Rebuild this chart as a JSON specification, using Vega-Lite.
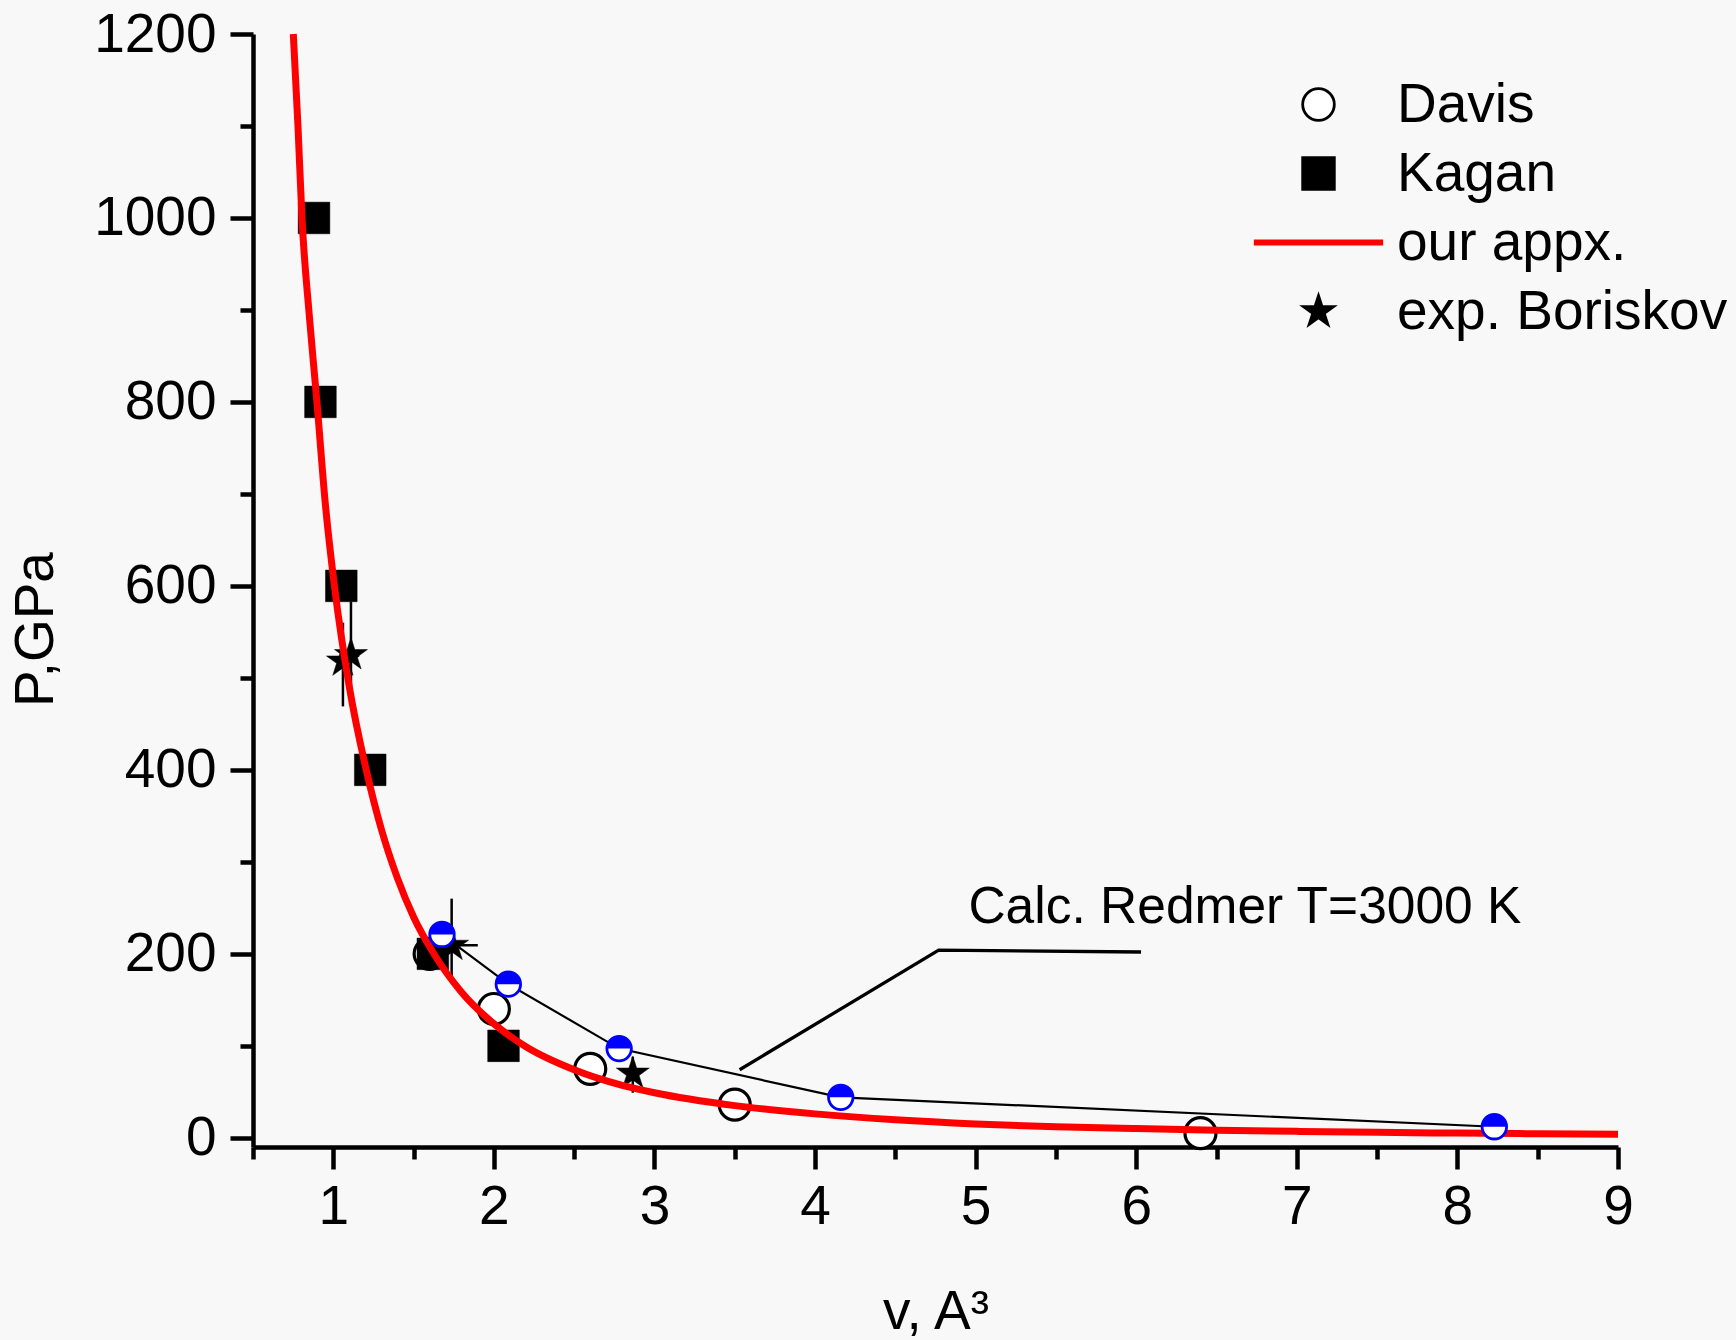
{
  "$schema": "https://vega.github.io/schema/vega-lite/v6.json",
  "width": 1365,
  "height": 1113,
  "autosize": {"type": "none"},
  "padding": {"left": 253, "top": 34, "right": 118, "bottom": 193},
  "background": "#f8f8f8",
  "config": {
    "view": {"stroke": null},
    "font": "Liberation Sans",
    "axis": {"grid": false, "labelFont": "Liberation Sans", "titleFont": "Liberation Sans", "domainColor": "black", "tickColor": "black", "labelColor": "black", "titleColor": "black", "titleFontWeight": "normal", "tickWidth": 4.5, "domainWidth": 4.5, "labelFlush": false, "labelOverlap": false}
  },
  "datasets": {
    "pts": [
      {"v": 1.60, "p": 200, "series": "Davis"},
      {"v": 2.00, "p": 140, "series": "Davis"},
      {"v": 2.60, "p": 75, "series": "Davis"},
      {"v": 3.50, "p": 36, "series": "Davis"},
      {"v": 6.40, "p": 5, "series": "Davis"},
      {"v": 0.88, "p": 1000, "series": "Kagan"},
      {"v": 0.92, "p": 800, "series": "Kagan"},
      {"v": 1.05, "p": 600, "series": "Kagan"},
      {"v": 1.23, "p": 400, "series": "Kagan"},
      {"v": 1.62, "p": 200, "series": "Kagan"},
      {"v": 2.06, "p": 100, "series": "Kagan"},
      {"v": 1.06, "p": 518, "series": "exp. Boriskov"},
      {"v": 1.11, "p": 525, "series": "exp. Boriskov"},
      {"v": 1.74, "p": 209, "series": "exp. Boriskov"},
      {"v": 2.865, "p": 70, "series": "exp. Boriskov"}
    ],
    "verr": [
      {"v": 1.06, "lo": 469, "hi": 560},
      {"v": 1.11, "lo": 469, "hi": 583},
      {"v": 1.737, "lo": 170, "hi": 260},
      {"v": 2.865, "lo": 49, "hi": 88}
    ],
    "herr": [
      {"lo": 1.57, "hi": 1.90, "p": 209.4}
    ],
    "appx": [
      {"v": 0.751, "p": 1200, "series": "our appx."},
      {"v": 0.78, "p": 1100, "series": "our appx."},
      {"v": 0.805, "p": 1000, "series": "our appx."},
      {"v": 0.85, "p": 895, "series": "our appx."},
      {"v": 0.898, "p": 800, "series": "our appx."},
      {"v": 0.95, "p": 690, "series": "our appx."},
      {"v": 1.007, "p": 600, "series": "our appx."},
      {"v": 1.1, "p": 490, "series": "our appx."},
      {"v": 1.205, "p": 400, "series": "our appx."},
      {"v": 1.3, "p": 335, "series": "our appx."},
      {"v": 1.4, "p": 282, "series": "our appx."},
      {"v": 1.5, "p": 240, "series": "our appx."},
      {"v": 1.63, "p": 199, "series": "our appx."},
      {"v": 1.8, "p": 158, "series": "our appx."},
      {"v": 2.0, "p": 124, "series": "our appx."},
      {"v": 2.2, "p": 99, "series": "our appx."},
      {"v": 2.5, "p": 74, "series": "our appx."},
      {"v": 2.8, "p": 57, "series": "our appx."},
      {"v": 3.0, "p": 49, "series": "our appx."},
      {"v": 3.5, "p": 35, "series": "our appx."},
      {"v": 4.0, "p": 26, "series": "our appx."},
      {"v": 4.5, "p": 19.5, "series": "our appx."},
      {"v": 5.0, "p": 15, "series": "our appx."},
      {"v": 5.5, "p": 12, "series": "our appx."},
      {"v": 6.0, "p": 10, "series": "our appx."},
      {"v": 6.5, "p": 8.3, "series": "our appx."},
      {"v": 7.0, "p": 7, "series": "our appx."},
      {"v": 7.5, "p": 6, "series": "our appx."},
      {"v": 8.0, "p": 5.1, "series": "our appx."},
      {"v": 8.5, "p": 4.4, "series": "our appx."},
      {"v": 9.0, "p": 3.9, "series": "our appx."}
    ],
    "redmer": [
      {"v": 1.677, "p": 221},
      {"v": 2.09, "p": 167},
      {"v": 2.78, "p": 97},
      {"v": 4.16, "p": 44},
      {"v": 8.23, "p": 12}
    ],
    "callout": [
      {"v": 3.53, "p": 74},
      {"v": 4.77, "p": 204},
      {"v": 6.03, "p": 202}
    ],
    "note": [
      {"v": 4.955, "p": 233.7, "text": "Calc. Redmer T=3000 K"}
    ]
  },
  "layer": [
    {
      "data": {"name": "pts"},
      "transform": [{"filter": "datum.series === 'Davis'"}],
      "mark": {"type": "point", "filled": true, "size": 961, "strokeWidth": 3.2, "opacity": 1},
      "encoding": {
        "x": {"field": "v", "type": "quantitative", "scale": {"domain": [0.5, 9], "nice": false, "zero": false},
          "axis": {"orient": "bottom", "values": [1, 2, 3, 4, 5, 6, 7, 8, 9], "tickSize": 22, "tickWidth": 4.5, "domainWidth": 4.5, "labelFontSize": 55, "labelPadding": 11, "title": "v, A³", "titleFontSize": 55, "titleY": 181, "titleBaseline": "alphabetic"}},
        "y": {"field": "p", "type": "quantitative", "scale": {"domain": [-10, 1200], "nice": false, "zero": false},
          "axis": {"orient": "left", "values": [0, 200, 400, 600, 800, 1000, 1200], "format": "d", "tickSize": 23, "tickWidth": 4.5, "domainWidth": 4.5, "labelFontSize": 55, "labelPadding": 14, "title": "P,GPa", "titleFontSize": 55, "titleAngle": -90, "titleX": -201, "titleY": 595, "titleBaseline": "alphabetic", "titleAlign": "center"}},
        "shape": {"field": "series", "type": "nominal",
          "scale": {"domain": ["Davis", "Kagan", "our appx.", "exp. Boriskov"], "range": ["circle", "square", "M-4,-0.1L4,-0.1L4,0.1L-4,0.1Z", "M0,-1L0.2245,-0.309L0.951,-0.309L0.3633,0.118L0.588,0.809L0,0.382L-0.588,0.809L-0.3633,0.118L-0.951,-0.309L-0.2245,-0.309Z"]},
          "legend": {"orient": "none", "legendX": 1038, "legendY": 43, "title": null, "padding": 0, "labelFontSize": 55, "labelFont": "Liberation Sans", "labelColor": "black", "labelLimit": 0, "labelOffset": 51, "rowPadding": 13, "symbolSize": 1000, "symbolStrokeWidth": 2.8,
            "encode": {
              "symbols": {"fill": {"scale": "fill", "field": "value"}, "stroke": {"scale": "stroke", "field": "value"}, "shape": {"scale": "shape", "field": "value"}, "size": {"value": 1000}, "strokeWidth": {"value": 2.8}, "opacity": {"value": 1}},
              "labels": {"dx": {"signal": "datum.value === 'exp. Boriskov' ? -17 : 0"}}
            }}},
        "fill": {"field": "series", "type": "nominal", "scale": {"domain": ["Davis", "Kagan", "our appx.", "exp. Boriskov"], "range": ["white", "black", "red", "black"]}},
        "stroke": {"field": "series", "type": "nominal", "scale": {"domain": ["Davis", "Kagan", "our appx.", "exp. Boriskov"], "range": ["black", "black", "red", "black"]}}
      }
    },
    {
      "data": {"name": "pts"},
      "transform": [{"filter": "datum.series === 'Kagan'"}],
      "mark": {"type": "point", "filled": true, "size": 1000, "strokeWidth": 0.5, "opacity": 1},
      "encoding": {
        "x": {"field": "v", "type": "quantitative", "axis": null},
        "y": {"field": "p", "type": "quantitative", "axis": null},
        "shape": {"field": "series", "type": "nominal"},
        "fill": {"field": "series", "type": "nominal"},
        "stroke": {"field": "series", "type": "nominal"}
      }
    },
    {
      "data": {"name": "pts"},
      "transform": [{"filter": "datum.series === 'exp. Boriskov'"}],
      "mark": {"type": "point", "filled": true, "size": 1200, "strokeWidth": 0.5, "opacity": 1},
      "encoding": {
        "x": {"field": "v", "type": "quantitative", "axis": null},
        "y": {"field": "p", "type": "quantitative", "axis": null},
        "shape": {"field": "series", "type": "nominal"},
        "fill": {"field": "series", "type": "nominal"},
        "stroke": {"field": "series", "type": "nominal"}
      }
    },
    {
      "data": {"name": "verr"},
      "mark": {"type": "rule", "color": "black", "strokeWidth": 2.5},
      "encoding": {
        "x": {"field": "v", "type": "quantitative", "axis": null},
        "y": {"field": "lo", "type": "quantitative", "axis": null},
        "y2": {"field": "hi"}
      }
    },
    {
      "data": {"name": "herr"},
      "mark": {"type": "rule", "color": "black", "strokeWidth": 2.5},
      "encoding": {
        "x": {"field": "lo", "type": "quantitative", "axis": null},
        "x2": {"field": "hi"},
        "y": {"field": "p", "type": "quantitative", "axis": null}
      }
    },
    {
      "data": {"name": "appx"},
      "mark": {"type": "line", "strokeWidth": 7, "interpolate": "monotone"},
      "encoding": {
        "x": {"field": "v", "type": "quantitative", "axis": null},
        "y": {"field": "p", "type": "quantitative", "axis": null},
        "stroke": {"field": "series", "type": "nominal"}
      }
    },
    {
      "data": {"name": "redmer"},
      "mark": {"type": "line", "color": "black", "strokeWidth": 2.2},
      "encoding": {
        "x": {"field": "v", "type": "quantitative",
          "axis": {"orient": "bottom", "values": [0.5, 1.5, 2.5, 3.5, 4.5, 5.5, 6.5, 7.5, 8.5], "labels": false, "domain": false, "tickSize": 12, "tickWidth": 4.5, "title": null}},
        "y": {"field": "p", "type": "quantitative",
          "axis": {"orient": "left", "values": [100, 300, 500, 700, 900, 1100], "labels": false, "domain": false, "tickSize": 13, "tickWidth": 4.5, "title": null}}
      }
    },
    {
      "data": {"name": "redmer"},
      "mark": {"type": "point", "shape": "circle", "size": 600, "filled": true, "fill": "white", "stroke": "#0000ff", "strokeWidth": 2.8, "opacity": 1},
      "encoding": {
        "x": {"field": "v", "type": "quantitative", "axis": null},
        "y": {"field": "p", "type": "quantitative", "axis": null}
      }
    },
    {
      "data": {"name": "redmer"},
      "mark": {"type": "point", "shape": "M-1,0A1,1 0 0 1 1,0Z", "size": 600, "filled": true, "fill": "#0000ff", "strokeWidth": 0, "opacity": 1},
      "encoding": {
        "x": {"field": "v", "type": "quantitative", "axis": null},
        "y": {"field": "p", "type": "quantitative", "axis": null}
      }
    },
    {
      "data": {"name": "callout"},
      "mark": {"type": "line", "color": "black", "strokeWidth": 3.3},
      "encoding": {
        "x": {"field": "v", "type": "quantitative", "axis": null},
        "y": {"field": "p", "type": "quantitative", "axis": null}
      }
    },
    {
      "data": {"name": "note"},
      "mark": {"type": "text", "align": "left", "baseline": "alphabetic", "fontSize": 51.5, "font": "Liberation Sans", "color": "black"},
      "encoding": {
        "x": {"field": "v", "type": "quantitative", "axis": null},
        "y": {"field": "p", "type": "quantitative", "axis": null},
        "text": {"field": "text"}
      }
    }
  ],
  "resolve": {"axis": {"x": "independent", "y": "independent"}}
}
